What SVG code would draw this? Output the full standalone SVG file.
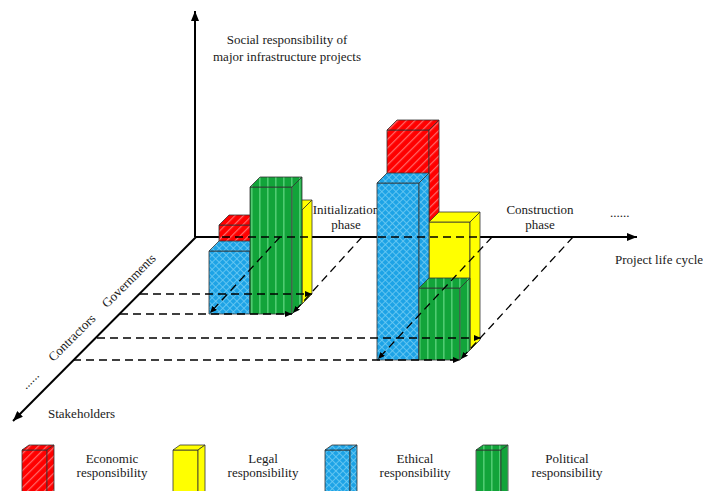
<svg xmlns="http://www.w3.org/2000/svg" width="703" height="491" viewBox="0 0 703 491">
<defs>
<style>
.t{font-family:"Liberation Serif","Times New Roman",serif;font-size:13px;fill:#1a1a1a}
.mid{text-anchor:middle}
.axis{stroke:#000;stroke-width:2;fill:none}
.dash{stroke:#000;stroke-width:1.3;fill:none;stroke-dasharray:8 5}
.face{stroke:#333;stroke-width:0.8;stroke-linejoin:round}
.red{fill:url(#pRed)}
.yel{fill:#FFFF00}
.blu{fill:url(#pBlue)}
.grn{fill:url(#pGreen)}
</style>
<pattern id="pRed" width="6" height="6" patternUnits="userSpaceOnUse" patternTransform="rotate(45)">
<rect width="6" height="6" fill="#FF0000"/>
<rect width="1.2" height="6" fill="#FF6A6A"/>
</pattern>
<pattern id="pBlue" width="5" height="5" patternUnits="userSpaceOnUse" patternTransform="rotate(45)">
<rect width="5" height="5" fill="#1DA3E6"/>
<rect width="0.8" height="5" fill="#6FCBF3"/>
<rect width="5" height="0.8" fill="#6FCBF3"/>
</pattern>
<pattern id="pGreen" width="8" height="8" patternUnits="userSpaceOnUse">
<rect width="8" height="8" fill="#12A43A"/>
<rect x="3" width="1.6" height="8" fill="#4FCB71"/>
</pattern>
<marker id="axArrow" markerUnits="userSpaceOnUse" markerWidth="10" markerHeight="8" refX="10" refY="4" orient="auto">
<path d="M0,0 L10,4 L0,8 z" fill="#000"/>
</marker>
<marker id="dArrow" markerUnits="userSpaceOnUse" markerWidth="7" markerHeight="6" refX="7" refY="3" orient="auto">
<path d="M0,0 L7,3 L0,6 z" fill="#000"/>
</marker>
</defs>

<g id="axes">
<path class="axis" d="M195,237 L195,11" marker-end="url(#axArrow)"/>
<path class="axis" d="M195,237 L637,237" marker-end="url(#axArrow)"/>
<path class="axis" d="M196,237 L13,421" marker-end="url(#axArrow)"/>
</g>

<g id="axis-labels">
<text class="t mid" x="287" y="43.5">Social responsibility of</text>
<text class="t mid" x="287" y="61">major infrastructure projects</text>
<text class="t mid" x="346" y="214">Initialization</text>
<text class="t mid" x="346" y="229">phase</text>
<text class="t mid" x="540" y="214">Construction</text>
<text class="t mid" x="540" y="229">phase</text>
<text class="t" x="610" y="217">......</text>
<text class="t" x="615" y="264">Project life cycle</text>
<text class="t" x="48" y="418">Stakeholders</text>
<text class="t mid" transform="translate(129,281) rotate(-45)" x="0" y="4">Governments</text>
<text class="t mid" transform="translate(72,338) rotate(-45)" x="0" y="4">Contractors</text>
<text class="t mid" transform="translate(30,380) rotate(-45)" x="0" y="4">......</text>
</g>

<g id="init-economic">
<rect class="face red" x="219" y="225" width="41" height="79"/>
<polygon class="face red" points="219,225 229,215 270,215 260,225"/>
<polygon class="face red" points="260,225 270,215 270,294 260,304"/>
</g>
<g id="init-legal">
<rect class="face yel" x="260" y="210" width="42" height="94"/>
<polygon class="face yel" points="260,210 270,200 312,200 302,210"/>
<polygon class="face yel" points="302,210 312,200 312,294 302,304"/>
</g>
<g id="init-ethical">
<rect class="face blu" x="209" y="251" width="41" height="63"/>
<polygon class="face blu" points="209,251 219,241 260,241 250,251"/>
<polygon class="face blu" points="250,251 260,241 260,304 250,314"/>
</g>
<g id="init-political">
<rect class="face grn" x="250" y="187" width="42" height="127"/>
<polygon class="face grn" points="250,187 260,177 302,177 292,187"/>
<polygon class="face grn" points="292,187 302,177 302,304 292,314"/>
</g>

<g id="cons-economic">
<rect class="face red" x="387" y="130" width="42" height="220"/>
<polygon class="face red" points="387,130 397,120 439,120 429,130"/>
<polygon class="face red" points="429,130 439,120 439,340 429,350"/>
</g>
<g id="cons-legal">
<rect class="face yel" x="429" y="222" width="41" height="128"/>
<polygon class="face yel" points="429,222 439,212 480,212 470,222"/>
<polygon class="face yel" points="470,222 480,212 480,340 470,350"/>
</g>
<g id="cons-ethical">
<rect class="face blu" x="377" y="183" width="42" height="177"/>
<polygon class="face blu" points="377,183 387,173 429,173 419,183"/>
<polygon class="face blu" points="419,183 429,173 429,350 419,360"/>
</g>
<g id="cons-political">
<rect class="face grn" x="419" y="288" width="41" height="72"/>
<polygon class="face grn" points="419,288 429,278 470,278 460,288"/>
<polygon class="face grn" points="460,288 470,278 470,350 460,360"/>
</g>

<g id="connectors">
<path class="dash" d="M196,237 L573,237"/>
<path class="dash" d="M280,237 L210,313" marker-end="url(#dArrow)"/>
<path class="dash" d="M362,237 L293,313" marker-end="url(#dArrow)"/>
<path class="dash" d="M140,294 L312,294" marker-end="url(#dArrow)"/>
<path class="dash" d="M120,314 L292,314" marker-end="url(#dArrow)"/>
<path class="dash" d="M492,237 L378,359" marker-end="url(#dArrow)"/>
<path class="dash" d="M573,237 L461,359" marker-end="url(#dArrow)"/>
<path class="dash" d="M97,338 L481,338" marker-end="url(#dArrow)"/>
<path class="dash" d="M73,360 L460,360" marker-end="url(#dArrow)"/>
</g>

<g id="legend-economic">
<rect class="face red" x="22" y="450" width="25" height="45"/>
<polygon class="face red" points="22,450 29,445 54,445 47,450"/>
<polygon class="face red" points="47,450 54,445 54,495 47,495"/>
<text class="t mid" x="112" y="463">Economic</text>
<text class="t mid" x="112" y="477">responsibility</text>
</g>
<g id="legend-legal">
<rect class="face yel" x="173" y="450" width="25" height="45"/>
<polygon class="face yel" points="173,450 180,445 205,445 198,450"/>
<polygon class="face yel" points="198,450 205,445 205,495 198,495"/>
<text class="t mid" x="263" y="463">Legal</text>
<text class="t mid" x="263" y="477">responsibility</text>
</g>
<g id="legend-ethical">
<rect class="face blu" x="325" y="450" width="25" height="45"/>
<polygon class="face blu" points="325,450 332,445 357,445 350,450"/>
<polygon class="face blu" points="350,450 357,445 357,495 350,495"/>
<text class="t mid" x="415" y="463">Ethical</text>
<text class="t mid" x="415" y="477">responsibility</text>
</g>
<g id="legend-political">
<rect class="face grn" x="476" y="450" width="25" height="45"/>
<polygon class="face grn" points="476,450 483,445 508,445 501,450"/>
<polygon class="face grn" points="501,450 508,445 508,495 501,495"/>
<text class="t mid" x="567" y="463">Political</text>
<text class="t mid" x="567" y="477">responsibility</text>
</g>
</svg>
